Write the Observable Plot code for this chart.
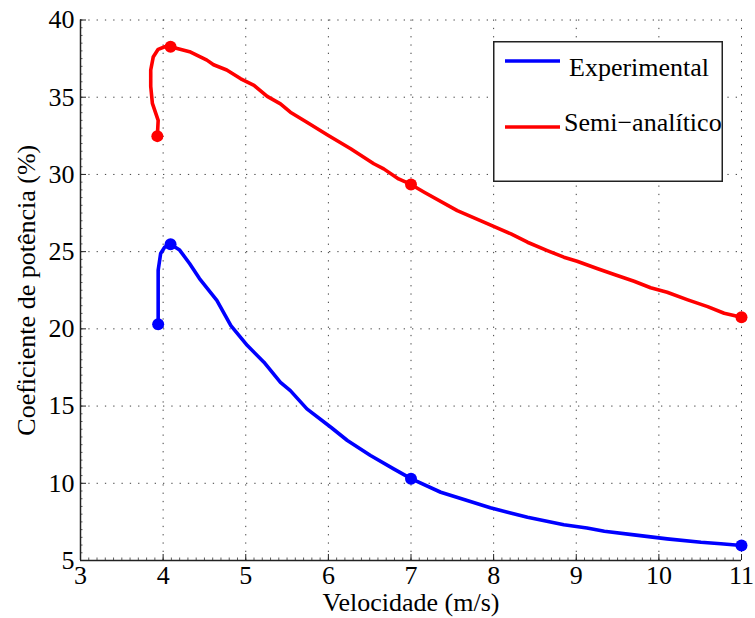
<!DOCTYPE html>
<html><head><meta charset="utf-8">
<script src="https://cdn.jsdelivr.net/npm/d3@7"></script>
<script src="https://cdn.jsdelivr.net/npm/@observablehq/plot@0.6"></script>
<style>
body{margin:0;background:#fff;}
#wrap{position:relative;width:755px;height:618px;}
#legend{position:absolute;left:493px;top:41px;}
svg, svg text{font-family:"Liberation Serif","DejaVu Serif","Times New Roman",serif !important;}
</style></head>
<body><div id="wrap"><div id="chart"></div><svg id="legend" width="231" height="141"></svg></div>
<script>
const xTicks = [3,4,5,6,7,8,9,10,11];
const yTicks = [5,10,15,20,25,30,35,40];
const seriesNames = ["Experimental", "Semi\u2212analítico"];
const seriesColors = ["#0000ff", "#ff0000"];

const expX = [3.94,3.94,3.94,3.97,4.02,4.09,4.2,4.32,4.44,4.65,4.82,5.02,5.22,5.42,5.54,5.74,6.03,6.23,6.51,6.79,7.0,7.36,7.68,7.96,8.41,8.85,9.13,9.34,9.70,10.10,10.51,10.75,11.0];
const expY = [20.3,22.0,23.8,24.88,25.3,25.48,25.1,24.23,23.26,21.85,20.21,18.92,17.84,16.54,16.0,14.82,13.63,12.77,11.8,10.93,10.3,9.42,8.88,8.41,7.80,7.31,7.11,6.89,6.66,6.40,6.18,6.08,5.97];
const semX = [3.93,3.94,3.87,3.85,3.85,3.88,3.94,4.02,4.09,4.32,4.53,4.61,4.77,4.94,5.10,5.26,5.42,5.54,5.74,6.0,6.27,6.55,6.67,6.85,7.0,7.16,7.56,7.84,8.0,8.21,8.41,8.65,8.85,9.01,9.26,9.46,9.70,9.90,10.10,10.35,10.59,10.79,11.0];
const semY = [32.48,33.5,34.6,35.7,36.76,37.6,38.1,38.27,38.27,37.95,37.4,37.1,36.76,36.19,35.76,35.05,34.57,34.03,33.38,32.52,31.66,30.69,30.36,29.71,29.35,28.85,27.66,27.01,26.63,26.15,25.61,25.07,24.64,24.38,23.89,23.52,23.08,22.66,22.37,21.88,21.44,21.01,20.75];
const expDotX = [3.94,4.09,7.0,11.0];
const expDotY = [20.3,25.48,10.3,5.97];
const semDotX = [3.93,4.09,7.0,11.0];
const semDotY = [32.48,38.27,29.35,20.75];

const exp = expX.map((x,i)=>({x, y:expY[i], s:seriesNames[0]}));
const sem = semX.map((x,i)=>({x, y:semY[i], s:seriesNames[1]}));
const dots = [
  ...expDotX.map((x,i)=>({x, y:expDotY[i], s:seriesNames[0]})),
  ...semDotX.map((x,i)=>({x, y:semDotY[i], s:seriesNames[1]}))
];

const font = "Liberation Serif, DejaVu Serif, Times New Roman, serif";
const pxY = 35/540.5, pxX = 8/661;
const minorX = d3.range(3, 11.001, 0.1);
const minorY = d3.range(5, 40.001, 0.5);

const chart = Plot.plot({
  width: 755, height: 618,
  marginLeft: 80, marginRight: 14, marginTop: 19.5, marginBottom: 58,
  style: {fontFamily: font, fontSize: "26px", color: "#000", background: "#fff"},
  x: {domain: [3, 11]},
  y: {domain: [5, 40]},
  color: {domain: seriesNames, range: seriesColors},
  marks: [
    Plot.gridX(xTicks.slice(1), {stroke: "#000", strokeOpacity: 0.75, strokeDasharray: "1.3,7"}),
    Plot.gridY(yTicks.slice(1), {stroke: "#000", strokeOpacity: 0.75, strokeDasharray: "1.3,7"}),
    Plot.ruleX(minorX, {x: d=>d, y1: 5, y2: 5 + 2.5*pxY, stroke: "#333", strokeWidth: 0.8}),
    Plot.ruleY(minorY, {y: d=>d, x1: 3, x2: 3 + 2.5*pxX, stroke: "#333", strokeWidth: 0.8}),
    Plot.ruleX(xTicks, {x: d=>d, y1: 5, y2: 5 + 6*pxY, stroke: "#222", strokeWidth: 1}),
    Plot.ruleY(yTicks, {y: d=>d, x1: 3, x2: 3 + 6*pxX, stroke: "#222", strokeWidth: 1}),
    Plot.ruleX([3], {stroke: "#222", strokeWidth: 1.5}),
    Plot.ruleY([5], {stroke: "#222", strokeWidth: 1.5}),
    Plot.line(exp, {x: "x", y: "y", stroke: "s", strokeWidth: 3.6, strokeLinejoin: "round", strokeLinecap: "round"}),
    Plot.line(sem, {x: "x", y: "y", stroke: "s", strokeWidth: 3.6, strokeLinejoin: "round", strokeLinecap: "round"}),
    Plot.dot(dots, {x: "x", y: "y", fill: "s", r: 6, stroke: null}),
    Plot.axisX(xTicks, {tickSize: 0, tickPadding: 5, fontSize: 26, label: "Velocidade (m/s)", labelAnchor: "center", labelArrow: "none", labelOffset: 50}),
    Plot.axisY(yTicks, {tickSize: 0, tickPadding: 6, fontSize: 26, label: "Coeficiente de potência (%)", labelAnchor: "center", labelArrow: "none", labelOffset: 64})
  ]
});
document.getElementById("chart").appendChild(chart);

// legend
const lg = d3.select("#legend");
lg.append("rect").attr("x", 0.75).attr("y", 0.75).attr("width", 228.5).attr("height", 139.5)
  .attr("fill", "#fff").attr("stroke", "#222").attr("stroke-width", 1.5);
const items = [
  {name: seriesNames[0], color: seriesColors[0], ly: 20, tx: 76, ty: 35},
  {name: seriesNames[1], color: seriesColors[1], ly: 86, tx: 71, ty: 90}
];
for (const it of items) {
  lg.append("line").attr("x1", 12).attr("x2", 67).attr("y1", it.ly).attr("y2", it.ly)
    .attr("stroke", it.color).attr("stroke-width", 3.6);
  lg.append("text").attr("x", it.tx).attr("y", it.ty).text(it.name)
    .attr("font-family", font).attr("font-size", 26).attr("fill", "#000");
}
</script></body></html>
